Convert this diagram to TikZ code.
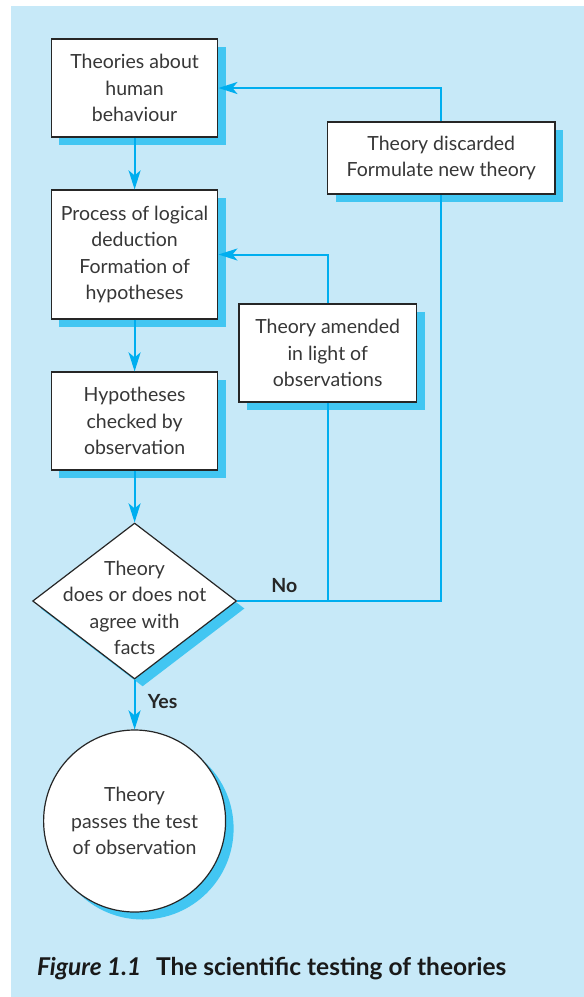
\documentclass[tikz,border=0pt]{standalone}
\usepackage{xcolor}
\usepackage{fontspec}
\setmainfont{Lato}
\usepackage{tikz}
\usetikzlibrary{shapes,arrows.meta,positioning,shadows,calc}

\definecolor{paleblue}{RGB}{199,233,248}
\definecolor{shadeblue}{RGB}{66,198,242}
\definecolor{flowblue}{RGB}{0,174,239}
\definecolor{inkgrey}{RGB}{55,55,55}

\begin{document}
\begin{tikzpicture}[
			x=1pt, y=-1pt,
			every node/.style={font=\fontsize{19.5}{26.5}\selectfont, text=inkgrey},
			shade/.style={drop shadow={shadow xshift=8pt, shadow yshift=-7.5pt, fill=shadeblue, opacity=1}},
			stepbox/.style={draw=black!85, line width=1.2pt, fill=white, align=center, inner sep=0pt, shade},
			choice/.style={diamond, draw=black!85, line width=1.2pt, fill=white, inner sep=0pt, minimum width=204pt, minimum height=156pt, shade},
			result/.style={circle, draw=black!85, line width=1.2pt, fill=white, align=center, inner sep=0pt, minimum size=182pt, shade},
			flow/.style={flowblue, line width=2pt, -{Stealth[length=19pt,width=12pt,inset=5pt]}},
			link/.style={flowblue, line width=2pt},
			answer/.style={font=\fontsize{19.5}{22}\selectfont\bfseries, text=black!85}
			]

			\useasboundingbox (0,0) rectangle (584,997);
			\fill[paleblue] (11,5.5) rectangle (584,997);

			\node[stepbox, minimum width=166.5pt, minimum height=98pt] (theories) at (134.6,88) {Theories about\\human\\behaviour};
			\node[stepbox, minimum width=166.5pt, minimum height=129pt] (process) at (134.6,254.5) {Process of logical\\deduction\\Formation of\\hypotheses};
			\node[stepbox, minimum width=166.5pt, minimum height=98pt] (checked) at (134.6,421) {Hypotheses\\checked by\\observation};
			\node[choice, label={[align=center, yshift=-7pt]center:Theory\\does or does not\\agree with\\facts}] (agree) at (134.6,601) {};
			\node[result] (passes) at (134.6,821) {Theory\\passes the test\\of observation};

			\node[stepbox, minimum width=177.6pt, minimum height=98pt] (amended) at (327.7,353) {Theory amended\\in light of\\observations};
			\node[stepbox, minimum width=227.2pt, minimum height=72pt] (discarded) at (441.3,158) {Theory discarded\\Formulate new theory};

			\draw[flow] (theories) -- (process);
			\draw[flow] (process) -- (checked);
			\draw[flow] (checked) -- (agree);
			\draw[flow] (agree) -- node[answer, right=9pt, pos=0.45] (yes) {Yes} (passes);

			\coordinate (nojoin) at (amended.south |- agree.east);
			\coordinate (noend) at (discarded.south |- agree.east);
			\draw[link] (agree.east) -- (noend) -- (discarded.south);
			\draw[link] (nojoin) -- (amended.south);
			\node[answer, above=5pt] (no) at ($(agree.east)!0.52!(nojoin)$) {No};

			\draw[flow] (amended.north) |- (process.east);
			\draw[flow] (discarded.north) |- (theories.east);

			\node[anchor=base west, font=\fontsize{24.5}{28}\selectfont\bfseries, text=black!90] (caption) at (33.5,975) {\textit{Figure 1.1}\hspace{0.6em}The scientific testing of theories};

			\end{tikzpicture}
\end{document}
